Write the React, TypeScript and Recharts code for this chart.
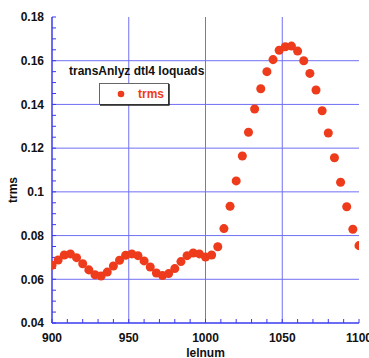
import React from 'react';
import {
  ScatterChart, Scatter, XAxis, YAxis, ZAxis, ReferenceLine, Legend, Label,
} from 'recharts';

const xValues = [
  900, 904, 908, 912, 916, 920, 924, 928, 932, 936, 940, 944, 948, 952, 956, 960, 964,
  968, 972, 976, 980, 984, 988, 992, 996, 1000, 1004, 1008, 1012, 1016, 1020, 1024,
  1028, 1032, 1036, 1040, 1044, 1048, 1052, 1056, 1060, 1064, 1068, 1072, 1076, 1080,
  1084, 1088, 1092, 1096, 1100,
];
const trmsValues = [
  0.0664, 0.0688, 0.0711, 0.0716, 0.0699, 0.0671, 0.0643, 0.0621, 0.0615, 0.0633,
  0.0661, 0.0687, 0.0710, 0.0716, 0.0708, 0.0684, 0.0656, 0.0629, 0.0617, 0.0626,
  0.0649, 0.0681, 0.0708, 0.0720, 0.0716, 0.0702, 0.0711, 0.0749, 0.0832, 0.0934,
  0.1050, 0.1164, 0.1273, 0.1379, 0.1472, 0.1550, 0.1605, 0.1648, 0.1664, 0.1667,
  0.1644, 0.1600, 0.1542, 0.1466, 0.1371, 0.1269, 0.1156, 0.1044, 0.0932, 0.0829,
  0.0754,
];
const xTicks = [
  900, 910, 920, 930, 940, 950, 960, 970, 980, 990, 1000, 1010, 1020, 1030, 1040,
  1050, 1060, 1070, 1080, 1090, 1100,
];
const xMajor = [900, 950, 1000, 1050, 1100];
const yTicks = [
  0.04, 0.045, 0.05, 0.055, 0.06, 0.065, 0.07, 0.075, 0.08, 0.085, 0.09, 0.095, 0.1,
  0.105, 0.11, 0.115, 0.12, 0.125, 0.13, 0.135, 0.14, 0.145, 0.15, 0.155, 0.16, 0.165,
  0.17, 0.175, 0.18,
];
const yMajor = [0.04, 0.06, 0.08, 0.1, 0.12, 0.14, 0.16, 0.18];
const yMajorLabels = ['0.04', '0.06', '0.08', '0.1', '0.12', '0.14', '0.16', '0.18'];

const data = xValues.map((x, i) => ({ x, y: trmsValues[i] }));

const FONT = '"Liberation Sans", Arial, Helvetica, sans-serif';
const AXIS = '#3a3af0';
const GRID = '#7070f4';
const RED = '#ee3b1c';

const XTick = (props: any) => {
  const v = props.payload.value;
  if (!xMajor.includes(v)) return null;
  return (
    <text x={props.x} y={props.y} textAnchor="middle" fontFamily={FONT} fontWeight="bold" fontSize={12} fill="#111">
      {String(v)}
    </text>
  );
};

const YTick = (props: any) => {
  const v = props.payload.value;
  const idx = yMajor.findIndex((m) => Math.abs(m - v) < 1e-9);
  if (idx < 0) return null;
  return (
    <text x={props.x} y={props.y} dy="0.36em" textAnchor="end" fontFamily={FONT} fontWeight="bold" fontSize={12} fill="#111">
      {yMajorLabels[idx]}
    </text>
  );
};

const LegendBox = () => (
  <svg width={369} height={120} style={{ display: 'block' }}>
    <text x={69} y={75} fontFamily={FONT} fontWeight="bold" fontSize={12} fill="#111">
      transAnlyz dtl4 loquads
    </text>
    <rect x={99.5} y={83.5} width={69} height={21} fill="#fff" stroke="#666" strokeWidth={1} />
    <line x1={169} y1={84} x2={169} y2={105} stroke="#222" strokeWidth={1.5} />
    <line x1={100} y1={105} x2={169.5} y2={105} stroke="#222" strokeWidth={1.5} />
    <circle cx={121} cy={94} r={3.3} fill={RED} />
    <text x={138} y={98} fontFamily={FONT} fontWeight="bold" fontSize={12} fill={RED}>
      trms
    </text>
  </svg>
);

export default function App() {
  return (
    <div style={{ position: 'absolute', left: 0, top: 0, width: 369, height: 358, background: '#fff' }}>
      <ScatterChart width={369} height={358} margin={{ top: 17, right: 10, left: 0, bottom: 0 }}>
        <XAxis
          dataKey="x" type="number" domain={[900, 1100]} ticks={xTicks} interval={0}
          height={35} tickSize={-4} tickMargin={23} tick={<XTick />}
          axisLine={{ stroke: AXIS, strokeWidth: 1.5 }} tickLine={{ stroke: AXIS }}
          allowDataOverflow
        >
          <Label
            content={(p: any) => (
              <text x={205.5} y={357} textAnchor="middle" fontFamily={FONT} fontWeight="bold" fontSize={12} fill="#111">
                lelnum
              </text>
            )}
          />
        </XAxis>
        <XAxis
          xAxisId="top" orientation="top" type="number" domain={[900, 1100]} ticks={xTicks}
          interval={0} height={0} tickSize={-4} tick={false}
          axisLine={{ stroke: AXIS, strokeWidth: 1.5 }} tickLine={{ stroke: AXIS }}
          allowDataOverflow
        />
        <YAxis
          dataKey="y" type="number" domain={[0.04, 0.18]} ticks={yTicks} interval={0}
          width={52} tickSize={-4} tickMargin={12} tick={<YTick />}
          axisLine={{ stroke: AXIS, strokeWidth: 1.5 }} tickLine={{ stroke: AXIS }}
          allowDataOverflow
        >
          <Label
            content={() => (
              <text x={17} y={190} transform="rotate(-90 17 190)" textAnchor="middle" fontFamily={FONT} fontWeight="bold" fontSize={12} fill="#111">
                trms
              </text>
            )}
          />
        </YAxis>
        <YAxis
          yAxisId="right" orientation="right" type="number" domain={[0.04, 0.18]} ticks={yTicks}
          interval={0} width={0} tickSize={-4} tick={false}
          axisLine={{ stroke: AXIS, strokeWidth: 1.5 }} tickLine={{ stroke: AXIS }}
          allowDataOverflow
        />
        <ZAxis range={[36, 36]} />
        {[950, 1000, 1050].map((v) => (
          <ReferenceLine key={'vx' + v} x={v} stroke={GRID} strokeWidth={1} />
        ))}
        {[0.06, 0.08, 0.1, 0.12, 0.14, 0.16].map((v) => (
          <ReferenceLine key={'hy' + v} y={v} stroke={GRID} strokeWidth={1} />
        ))}
        <Legend
          layout="vertical" align="center" verticalAlign="middle"
          content={() => <LegendBox />}
          wrapperStyle={{ position: 'absolute', left: 0, top: 0, width: 369, height: 120, pointerEvents: 'none' }}
        />
        <Scatter name="trms" data={data} fill={RED} isAnimationActive={false} />
      </ScatterChart>
    </div>
  );
}
